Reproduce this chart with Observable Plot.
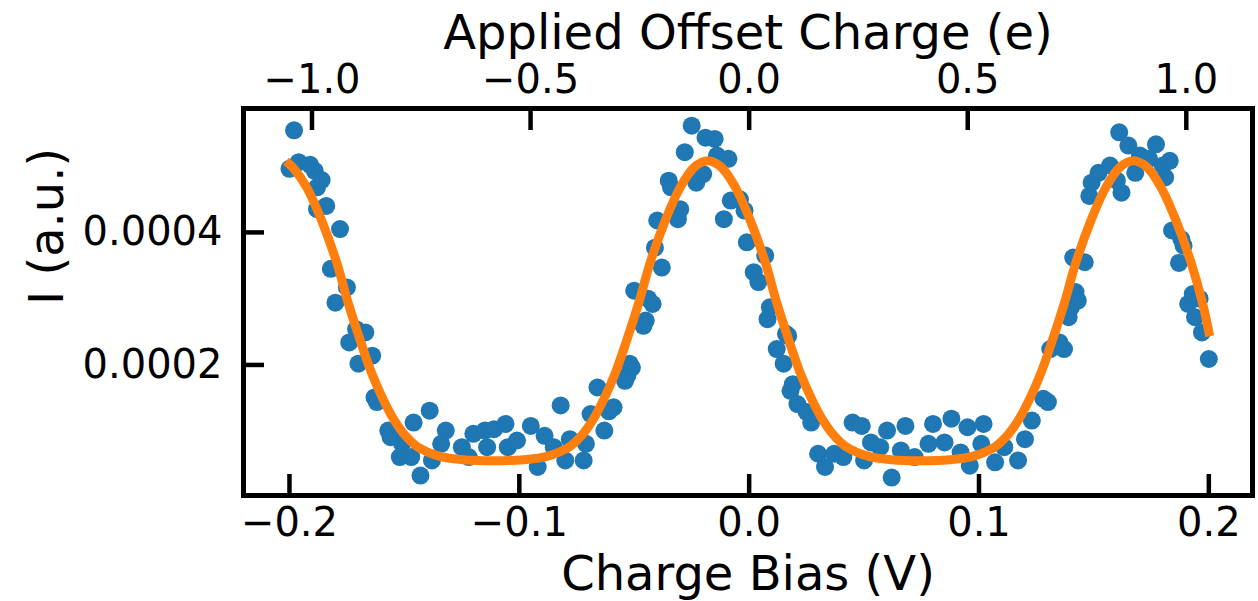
<!DOCTYPE html>
<html><head><meta charset="utf-8">
<script src="https://cdn.jsdelivr.net/npm/d3@7"></script>
<script src="https://cdn.jsdelivr.net/npm/@observablehq/plot@0.6"></script>
<style>html,body{margin:0;padding:0;background:#fff;} svg{display:block;}</style>
</head><body><div id="chart"></div>
<script>
// Measured data: charge bias (V) and current I (a.u.)
const bias = [
-0.200,-0.198,-0.196,-0.191,-0.189,-0.188,-0.188,-0.186,-0.184,-0.182,-0.180,-0.178,-0.175,-0.174,-0.171,-0.170,-0.167,-0.164,-0.163,-0.162,
-0.157,-0.156,-0.152,-0.151,-0.147,-0.146,-0.143,-0.139,-0.138,-0.134,-0.132,-0.125,-0.122,-0.120,-0.115,-0.114,-0.111,-0.106,-0.105,-0.101,
-0.095,-0.092,-0.089,-0.085,-0.082,-0.080,-0.078,-0.072,-0.071,-0.069,-0.066,-0.063,-0.061,-0.059,-0.054,-0.053,-0.052,-0.051,-0.050,-0.046,
-0.045,-0.044,-0.042,-0.041,-0.040,-0.038,-0.035,-0.034,-0.031,-0.030,-0.028,-0.025,-0.023,-0.020,-0.019,-0.015,-0.014,-0.011,-0.009,-0.008,
-0.004,-0.002,-0.001,0.002,0.004,0.007,0.008,0.009,0.012,0.015,0.016,0.017,0.018,0.019,0.021,0.025,0.027,0.030,0.033,0.037,
0.041,0.045,0.049,0.050,0.053,0.057,0.060,0.062,0.066,0.068,0.072,0.078,0.080,0.085,0.088,0.092,0.095,0.096,0.101,0.102,
0.107,0.111,0.117,0.120,0.123,0.128,0.130,0.131,0.135,0.137,0.139,0.140,0.141,0.142,0.143,0.146,0.148,0.149,0.152,0.157,
0.160,0.161,0.162,0.165,0.168,0.170,0.174,0.177,0.180,0.181,0.183,0.184,0.187,0.188,0.189,0.191,0.193,0.194,0.196,0.197,
0.200];
const current = [
4.96e-4,5.54e-4,5.06e-4,5.02e-4,4.93e-4,4.68e-4,4.35e-4,4.79e-4,4.40e-4,3.45e-4,2.94e-4,4.05e-4,3.17e-4,2.34e-4,2.54e-4,2.02e-4,2.49e-4,2.14e-4,1.51e-4,1.44e-4,
1.01e-4,0.91e-4,0.61e-4,0.81e-4,0.61e-4,1.13e-4,0.33e-4,1.31e-4,0.56e-4,0.81e-4,1.01e-4,0.76e-4,0.61e-4,0.96e-4,1.01e-4,0.76e-4,1.03e-4,1.11e-4,0.76e-4,0.86e-4,
1.08e-4,0.46e-4,0.93e-4,0.76e-4,1.39e-4,0.56e-4,0.88e-4,0.56e-4,0.81e-4,1.26e-4,1.66e-4,1.01e-4,1.30e-4,1.36e-4,1.76e-4,1.84e-4,2.02e-4,1.96e-4,3.12e-4,2.59e-4,
2.67e-4,3.00e-4,2.92e-4,3.77e-4,4.18e-4,3.47e-4,4.78e-4,4.68e-4,4.20e-4,4.35e-4,5.21e-4,5.61e-4,4.75e-4,4.88e-4,5.43e-4,5.41e-4,5.16e-4,4.20e-4,5.11e-4,4.48e-4,
4.50e-4,4.33e-4,3.85e-4,3.40e-4,3.25e-4,3.65e-4,2.69e-4,2.87e-4,2.24e-4,2.02e-4,2.47e-4,2.44e-4,1.61e-4,1.71e-4,1.41e-4,1.29e-4,1.13e-4,0.66e-4,0.46e-4,0.66e-4,
0.61e-4,1.13e-4,1.08e-4,0.56e-4,0.83e-4,0.76e-4,1.01e-4,0.30e-4,0.71e-4,1.08e-4,0.61e-4,0.81e-4,1.11e-4,0.83e-4,1.19e-4,0.68e-4,1.06e-4,0.48e-4,0.81e-4,1.11e-4,
0.53e-4,0.76e-4,0.56e-4,0.88e-4,1.16e-4,1.49e-4,1.44e-4,2.24e-4,2.34e-4,2.24e-4,2.72e-4,2.87e-4,3.62e-4,3.10e-4,2.97e-4,3.55e-4,4.55e-4,4.75e-4,4.90e-4,5.01e-4,
4.78e-4,5.51e-4,4.60e-4,5.31e-4,4.90e-4,5.16e-4,5.11e-4,5.33e-4,5.01e-4,4.83e-4,5.08e-4,4.03e-4,3.54e-4,3.90e-4,3.80e-4,2.92e-4,3.07e-4,2.72e-4,3.00e-4,2.49e-4,
2.09e-4];
// Fit curve
const fitBias = [
-0.200,-0.1985,-0.1925,-0.186,-0.1795,-0.1745,-0.1695,-0.1645,-0.1595,-0.1545,-0.1495,-0.1445,-0.1345,-0.1245,-0.111,
-0.098,-0.088,-0.078,-0.073,-0.068,-0.063,-0.058,-0.053,-0.048,-0.043,-0.0365,-0.030,-0.024,-0.018,
-0.012,-0.006,0.0005,0.007,0.012,0.017,0.022,0.027,0.032,0.037,0.042,0.052,0.062,0.0746,
0.0872,0.0972,0.1072,0.1122,0.1172,0.1222,0.1272,0.1322,0.1372,0.1422,0.1487,0.1552,0.1612,0.1672,
0.1732,0.1792,0.1857,0.1922,0.1972,0.200];
const fitCurrent = [
5.03e-4,4.98e-4,4.68e-4,4.18e-4,3.55e-4,2.94e-4,2.40e-4,1.90e-4,1.50e-4,1.17e-4,0.93e-4,0.77e-4,0.62e-4,0.57e-4,0.555e-4,
0.57e-4,0.62e-4,0.77e-4,0.93e-4,1.17e-4,1.50e-4,1.90e-4,2.40e-4,2.94e-4,3.55e-4,4.18e-4,4.68e-4,4.98e-4,5.08e-4,
4.98e-4,4.68e-4,4.18e-4,3.55e-4,2.94e-4,2.40e-4,1.90e-4,1.50e-4,1.17e-4,0.93e-4,0.77e-4,0.62e-4,0.57e-4,0.555e-4,
0.57e-4,0.62e-4,0.77e-4,0.93e-4,1.17e-4,1.50e-4,1.90e-4,2.40e-4,2.94e-4,3.55e-4,4.18e-4,4.68e-4,4.98e-4,5.08e-4,
4.98e-4,4.68e-4,4.18e-4,3.55e-4,2.94e-4,2.50e-4];

const biasTicks = [-0.2, -0.1, 0.0, 0.1, 0.2];
const chargeTicks = [-1.0, -0.5, 0.0, 0.5, 1.0];
const currentTicks = [0.0002, 0.0004];
const voltsPerElectron = 0.1902; // top axis: 1 e of offset charge in volts of bias
const xLabel = "Charge Bias (V)";
const topLabel = "Applied Offset Charge (e)";
const yLabel = "I (a.u.)";

const points = bias.map((x, i) => ({x, y: current[i]}));
const fit = fitBias.map((x, i) => ({x, y: fitCurrent[i]}));
const fmt1 = d3.format(".1f");

const chart = Plot.plot({
  width: 1258, height: 601,
  marginLeft: 243, marginRight: 6, marginTop: 108, marginBottom: 106,
  style: {fontFamily: "DejaVu Sans", fontSize: "40px", background: "#fff", color: "#000", overflow: "visible"},
  x: {domain: [-0.22, 0.219]},
  y: {domain: [0.000003, 0.000587]},
  marks: [
    Plot.dot(points, {x: "x", y: "y", r: 9, fill: "#1f77b4"}),
    Plot.line(fit, {x: "x", y: "y", stroke: "#ff7f0e", strokeWidth: 9, curve: "catmull-rom", strokeLinecap: "square"}),
    Plot.axisX({anchor: "bottom", ticks: biasTicks, tickFormat: fmt1, tickSize: -21, tickPadding: 33, strokeWidth: 4.5, fontSize: 40, label: null}),
    Plot.axisX({anchor: "top", ticks: chargeTicks.map(e => e * voltsPerElectron), tickFormat: d => fmt1(d / voltsPerElectron), tickSize: -21, tickPadding: 37, strokeWidth: 4.5, fontSize: 40, label: null}),
    Plot.axisY({anchor: "left", ticks: currentTicks, tickFormat: d => d.toFixed(4), tickSize: -21, tickPadding: 42, strokeWidth: 4.5, fontSize: 40, label: null}),
    Plot.frame({stroke: "#000", strokeWidth: 5}),
    Plot.text([xLabel], {frameAnchor: "bottom", dy: 79, fontSize: 48, lineAnchor: "middle", text: d => d}),
    Plot.text([topLabel], {frameAnchor: "top", dy: -75, fontSize: 48, lineAnchor: "middle", text: d => d}),
    Plot.text([yLabel], {frameAnchor: "left", dx: -196, dy: 3, rotate: -90, fontSize: 48, lineAnchor: "middle", text: d => d})
  ]
});
document.getElementById("chart").appendChild(chart);
</script>
</body></html>
